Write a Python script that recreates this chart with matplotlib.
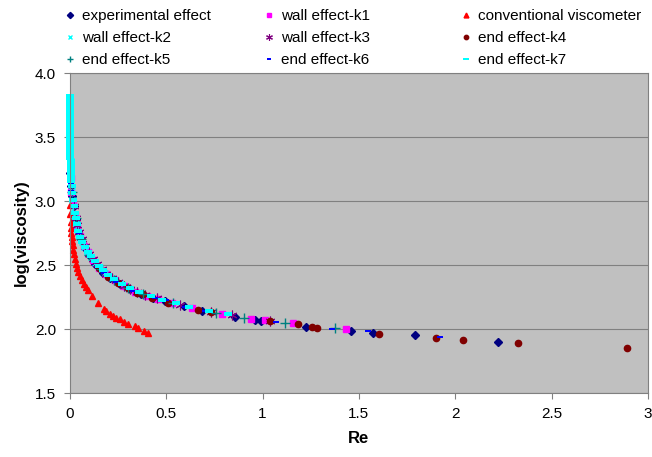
import numpy as np
import matplotlib.pyplot as plt

plt.rcParams['font.family'] = ['Liberation Sans', 'DejaVu Sans']

# experimental effect
exp_re = [0.003, 0.006, 0.012, 0.02, 0.03, 0.045, 0.06, 0.08, 0.1, 0.13, 0.17, 0.21,
          0.26, 0.31, 0.37, 0.43, 0.493, 0.59, 0.687, 0.858, 0.962, 0.99, 1.227, 1.458,
          1.571, 1.79, 2.219]
exp_v = [3.22, 3.12, 3.04, 2.96, 2.86, 2.77, 2.70, 2.63, 2.58, 2.51, 2.44, 2.40,
         2.35, 2.31, 2.27, 2.245, 2.221, 2.18, 2.14, 2.096, 2.07, 2.065, 2.013, 1.982,
         1.966, 1.951, 1.901]

# wall effect-k1
k1_re = [0.004, 0.009, 0.016, 0.026, 0.04, 0.055, 0.075, 0.095, 0.12, 0.15, 0.19, 0.235,
         0.28, 0.34, 0.40, 0.46, 0.53, 0.635, 0.792, 0.94, 1.012, 1.156, 1.433]
k1_v = [3.18, 3.07, 2.98, 2.89, 2.80, 2.73, 2.65, 2.60, 2.54, 2.48, 2.43, 2.38,
        2.34, 2.29, 2.26, 2.235, 2.20, 2.166, 2.115, 2.08, 2.068, 2.045, 2.00]

# conventional viscometer
conv_re = [0.001, 0.003, 0.005, 0.007, 0.009, 0.011, 0.013, 0.016, 0.019, 0.022, 0.026,
           0.030, 0.035, 0.043, 0.052, 0.061, 0.073, 0.083, 0.095, 0.113, 0.147, 0.178,
           0.19, 0.208, 0.225, 0.242, 0.26, 0.28, 0.303, 0.337, 0.355, 0.386, 0.406]
conv_v = [2.97, 2.90, 2.84, 2.79, 2.75, 2.72, 2.69, 2.66, 2.62, 2.59, 2.55,
          2.51, 2.474, 2.448, 2.414, 2.383, 2.352, 2.326, 2.305, 2.258, 2.205, 2.16,
          2.138, 2.117, 2.104, 2.088, 2.076, 2.057, 2.04, 2.02, 2.01, 1.987, 1.971]

# wall effect-k2
k2_re = [0.0004, 0.001, 0.0015, 0.002, 0.003, 0.004, 0.005, 0.007, 0.01, 0.014, 0.019,
         0.025, 0.032, 0.04, 0.05, 0.062, 0.076, 0.092, 0.11, 0.13, 0.155, 0.185, 0.22,
         0.26, 0.30]
k2_v = [3.75, 3.62, 3.56, 3.50, 3.40, 3.31, 3.24, 3.15, 3.08, 3.01, 2.94,
        2.88, 2.83, 2.78, 2.73, 2.68, 2.64, 2.60, 2.56, 2.52, 2.48, 2.44, 2.40,
        2.36, 2.32]

# wall effect-k3
k3_re = [0.02, 0.03, 0.04, 0.05, 0.065, 0.08, 0.10, 0.12, 0.14, 0.165, 0.19, 0.22,
         0.25, 0.28, 0.31, 0.35, 0.39, 0.45, 0.571, 0.735, 0.841, 1.038]
k3_v = [2.96, 2.87, 2.81, 2.76, 2.70, 2.65, 2.59, 2.55, 2.51, 2.47, 2.43, 2.40,
        2.37, 2.34, 2.315, 2.29, 2.265, 2.24, 2.187, 2.135, 2.112, 2.062]

# end effect-k4
k4_re = [0.15, 0.2, 0.25, 0.3, 0.35, 0.38, 0.424, 0.51, 0.666, 0.735, 1.038, 1.182,
         1.258, 1.285, 1.602, 1.899, 2.039, 2.327, 2.891]
k4_v = [2.48, 2.41, 2.36, 2.32, 2.285, 2.27, 2.245, 2.20, 2.148, 2.135, 2.062, 2.037,
        2.018, 2.01, 1.961, 1.93, 1.912, 1.888, 1.849]

# end effect-k5
k5_re = [0.01, 0.03, 0.06, 0.1, 0.16, 0.23, 0.3, 0.38, 0.536, 0.761, 0.906, 1.114, 1.375]
k5_v = [3.07, 2.87, 2.70, 2.58, 2.47, 2.38, 2.32, 2.27, 2.20, 2.125, 2.086, 2.049, 2.005]

# end effect-k6
k6_re = [0.003, 0.005, 0.008, 0.012, 0.018, 0.025, 0.035, 0.05, 0.07, 0.095, 0.13, 0.18,
         0.24, 0.33, 0.44, 0.498, 0.6, 0.7, 0.82, 1.069, 1.358, 1.548, 1.92]
k6_v = [3.20, 3.14, 3.08, 3.02, 2.96, 2.90, 2.83, 2.75, 2.67, 2.60, 2.53, 2.44,
        2.37, 2.30, 2.245, 2.227, 2.175, 2.14, 2.11, 2.058, 2.0, 1.987, 1.94]

# end effect-k7
k7_re = [0.0002, 0.0003, 0.0004, 0.0005, 0.0006, 0.0007, 0.0008, 0.001, 0.0012, 0.0014,
         0.0016, 0.0018, 0.002, 0.0023, 0.0026, 0.003, 0.0034, 0.004, 0.0045, 0.005,
         0.006, 0.007, 0.008, 0.01, 0.013, 0.016, 0.02, 0.025, 0.03, 0.037, 0.045, 0.055,
         0.066, 0.08, 0.095, 0.11, 0.13, 0.15, 0.175, 0.2, 0.23, 0.27, 0.31, 0.36, 0.42,
         0.48, 0.55, 0.62, 0.72, 0.822]
k7_v = [3.82, 3.79, 3.76, 3.73, 3.70, 3.67, 3.64, 3.61, 3.58, 3.55, 3.52, 3.49, 3.46,
        3.43, 3.40, 3.37, 3.34, 3.31, 3.28, 3.25, 3.22, 3.19, 3.16, 3.12, 3.06, 3.01,
        2.96, 2.91, 2.87, 2.82, 2.77, 2.72, 2.68, 2.64, 2.60, 2.57, 2.53, 2.49, 2.46,
        2.42, 2.39, 2.35, 2.32, 2.29, 2.255, 2.23, 2.20, 2.175, 2.14, 2.115]

dash = [(-1, -0.4), (1, -0.4), (1, 0.4), (-1, 0.4), (-1, -0.4)]

fig = plt.figure(figsize=(6.52, 4.57), dpi=100)
ax = fig.add_axes([0.107, 0.140, 0.887, 0.700])
ax.set_facecolor('#C0C0C0')

h_exp, = ax.plot(exp_re, exp_v, ls='none', marker='D', ms=4.5, color='#000080', label='experimental effect')
h_k1, = ax.plot(k1_re, k1_v, ls='none', marker='s', ms=4.5, color='#FF00FF', label='wall effect-k1')
h_conv, = ax.plot(conv_re, conv_v, ls='none', marker='^', ms=5, color='#FF0000', label='conventional viscometer')
h_k2, = ax.plot(k2_re, k2_v, ls='none', marker='x', ms=4.5, mew=1, color='#00FFFF', label='wall effect-k2')
h_k3, = ax.plot(k3_re, k3_v, ls='none', marker=(6, 2, 0), ms=7, mew=0.8, color='#800080', label='wall effect-k3')
h_k4, = ax.plot(k4_re, k4_v, ls='none', marker='o', ms=4.5, color='#800000', label='end effect-k4')
h_k5, = ax.plot(k5_re, k5_v, ls='none', marker='+', ms=7, mew=1, color='#008080', label='end effect-k5')
h_k6, = ax.plot(k6_re, k6_v, ls='none', marker=dash, ms=4.5, mew=0, color='#0000FF', label='end effect-k6')
h_k7, = ax.plot(k7_re, k7_v, ls='none', marker=dash, ms=5.5, mew=0, color='#00FFFF', label='end effect-k7')
for h in [h_exp, h_k1, h_conv, h_k2, h_k3, h_k4, h_k5, h_k6, h_k7]:
    h.set_clip_on(False)

ax.set_xlim(0, 3)
ax.set_ylim(1.5, 4.0)
ax.set_xticks(np.arange(0, 3.01, 0.5))
ax.set_xticklabels(['0', '0.5', '1', '1.5', '2', '2.5', '3'])
ax.set_yticks(np.arange(1.5, 4.01, 0.5))
ax.set_yticklabels(['1.5', '2.0', '2.5', '3.0', '3.5', '4.0'])
ax.tick_params(direction='out', length=4, width=0.8, color='#808080', labelsize=11, pad=6)
ax.yaxis.grid(True, color='#808080', lw=0.8)
ax.set_axisbelow(True)
for s in ['top', 'right', 'left', 'bottom']:
    ax.spines[s].set_color('#808080')

ax.set_xlabel('Re', fontsize=12, fontweight='bold', labelpad=7)
ax.set_ylabel('log(viscosity)', fontsize=12, fontweight='bold', labelpad=4)

cols = [[h_exp, h_k2, h_k5], [h_k1, h_k3, h_k6], [h_conv, h_k4, h_k7]]
xs = [0.086, 0.391, 0.693]
for hs, x in zip(cols, xs):
    fig.legend(handles=hs, loc='upper left', bbox_to_anchor=(x, 1.0), frameon=False,
               fontsize=11, handlelength=0.6, handletextpad=0.5, labelspacing=0.52,
               borderaxespad=0.2, markerscale=0.7)

fig.savefig('out.png', dpi=100)
